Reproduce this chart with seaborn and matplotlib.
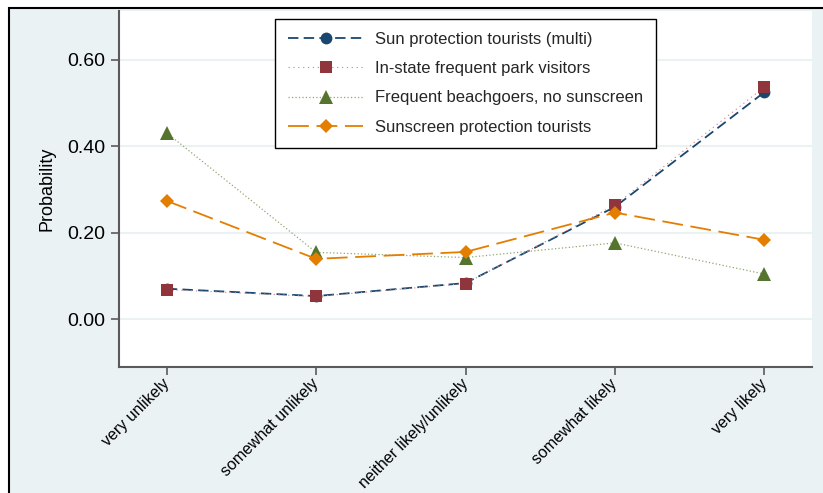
import matplotlib
matplotlib.use("Agg")
import matplotlib.pyplot as plt
from matplotlib.patches import Rectangle
from matplotlib.ticker import FormatStrFormatter
import seaborn as sns
import pandas as pd

# Response categories (x axis)
categories = ["very unlikely", "somewhat unlikely", "neither likely/unlikely",
              "somewhat likely", "very likely"]

# Predicted probabilities per latent class
sun_protection_multi = [0.071, 0.054, 0.084, 0.260, 0.525]
instate_park_visitors = [0.069, 0.053, 0.083, 0.264, 0.537]
beachgoers_no_sunscreen = [0.431, 0.155, 0.143, 0.177, 0.105]
sunscreen_tourists = [0.274, 0.140, 0.156, 0.247, 0.184]

series_names = ["Sun protection tourists (multi)",
                "In-state frequent park visitors",
                "Frequent beachgoers, no sunscreen",
                "Sunscreen protection tourists"]
series_values = [sun_protection_multi, instate_park_visitors,
                 beachgoers_no_sunscreen, sunscreen_tourists]

y_ticks = [0.0, 0.2, 0.4, 0.6]

sns.set_theme(style="white")
plt.rcParams["font.family"] = ["Liberation Sans", "DejaVu Sans"]
plt.rcParams["lines.scale_dashes"] = False

BG = "#EAF2F3"
AXIS_GRAY = "#5a5a5a"

fig = plt.figure(figsize=(8.23, 4.93), dpi=100, facecolor="white")
# outer graph region with black frame
frame_top = 1 - 7.7 / 493
fig.patches.append(Rectangle((9 / 823, -0.2), 1.2, frame_top + 0.2,
                             transform=fig.transFigure, facecolor=BG,
                             edgecolor="black", linewidth=1.5, zorder=-10))

ax = fig.add_axes([119 / 823, 1 - 367 / 493, (812 - 119) / 823, (367 - 11) / 493])
ax.set_facecolor("white")

styles = [
    dict(color="#1A476F", marker="o", markersize=8.5, linewidth=1.3,
         linestyle=(0, (7.5, 3.8))),
    dict(color="#90353B", marker="s", markersize=8.5, linewidth=0.8,
         linestyle=(0, (0.9, 2.6)), line_color="#d08a90"),
    dict(color="#55752F", marker="^", markersize=9.5, linewidth=0.9,
         linestyle=(0, (0.9, 1.6)), line_color="#8fa870"),
    dict(color="#E37E00", marker="D", markersize=7.5, linewidth=1.3,
         linestyle=(0, (15, 5.5))),
]

for name, vals, st in zip(series_names, series_values, styles):
    df = pd.DataFrame({"category": categories, "prob": vals})
    line_color = st.get("line_color", st["color"])
    sns.lineplot(data=df, x="category", y="prob", ax=ax, sort=False,
                 color=line_color, marker=st["marker"],
                 markersize=st["markersize"], markerfacecolor=st["color"],
                 markeredgecolor=st["color"], markeredgewidth=0,
                 linewidth=st["linewidth"], linestyle=st["linestyle"],
                 label=name)

ax.set_xlim(-0.32, 4.32)
ax.set_ylim(-0.11, 0.713)
ax.set_yticks(y_ticks)
ax.yaxis.set_major_formatter(FormatStrFormatter("%.2f"))
ax.grid(axis="y", color=BG, linewidth=1.5)
ax.set_axisbelow(True)

for side in ["top", "right"]:
    ax.spines[side].set_visible(False)
for side in ["left", "bottom"]:
    ax.spines[side].set_color(AXIS_GRAY)
    ax.spines[side].set_linewidth(1.5)

ax.tick_params(axis="both", which="major", direction="out", length=6,
               width=1.2, color=AXIS_GRAY, left=True, bottom=True)
ax.tick_params(axis="y", labelsize=14, pad=4, labelcolor="black")
ax.tick_params(axis="x", labelsize=11.5, pad=4.5, labelcolor="black")
for lab in ax.get_xticklabels():
    lab.set_rotation(45)
    lab.set_ha("right")
    lab.set_va("center")
    lab.set_rotation_mode("anchor")

ax.set_xlabel("")
ax.set_ylabel("Probability", fontsize=13, labelpad=8, color="black")

handles, labels = ax.get_legend_handles_labels()
leg = ax.legend(handles, labels, loc="upper left", bbox_to_anchor=(0.225, 0.978),
                borderaxespad=0, fontsize=12, handlelength=4.5, handletextpad=0.7,
                labelspacing=0.85, borderpad=0.8, frameon=True, fancybox=False,
                framealpha=1, edgecolor="black", facecolor="white", numpoints=1)
leg.get_frame().set_linewidth(1.0)

fig.savefig("out.png", dpi=100, facecolor=fig.get_facecolor())
